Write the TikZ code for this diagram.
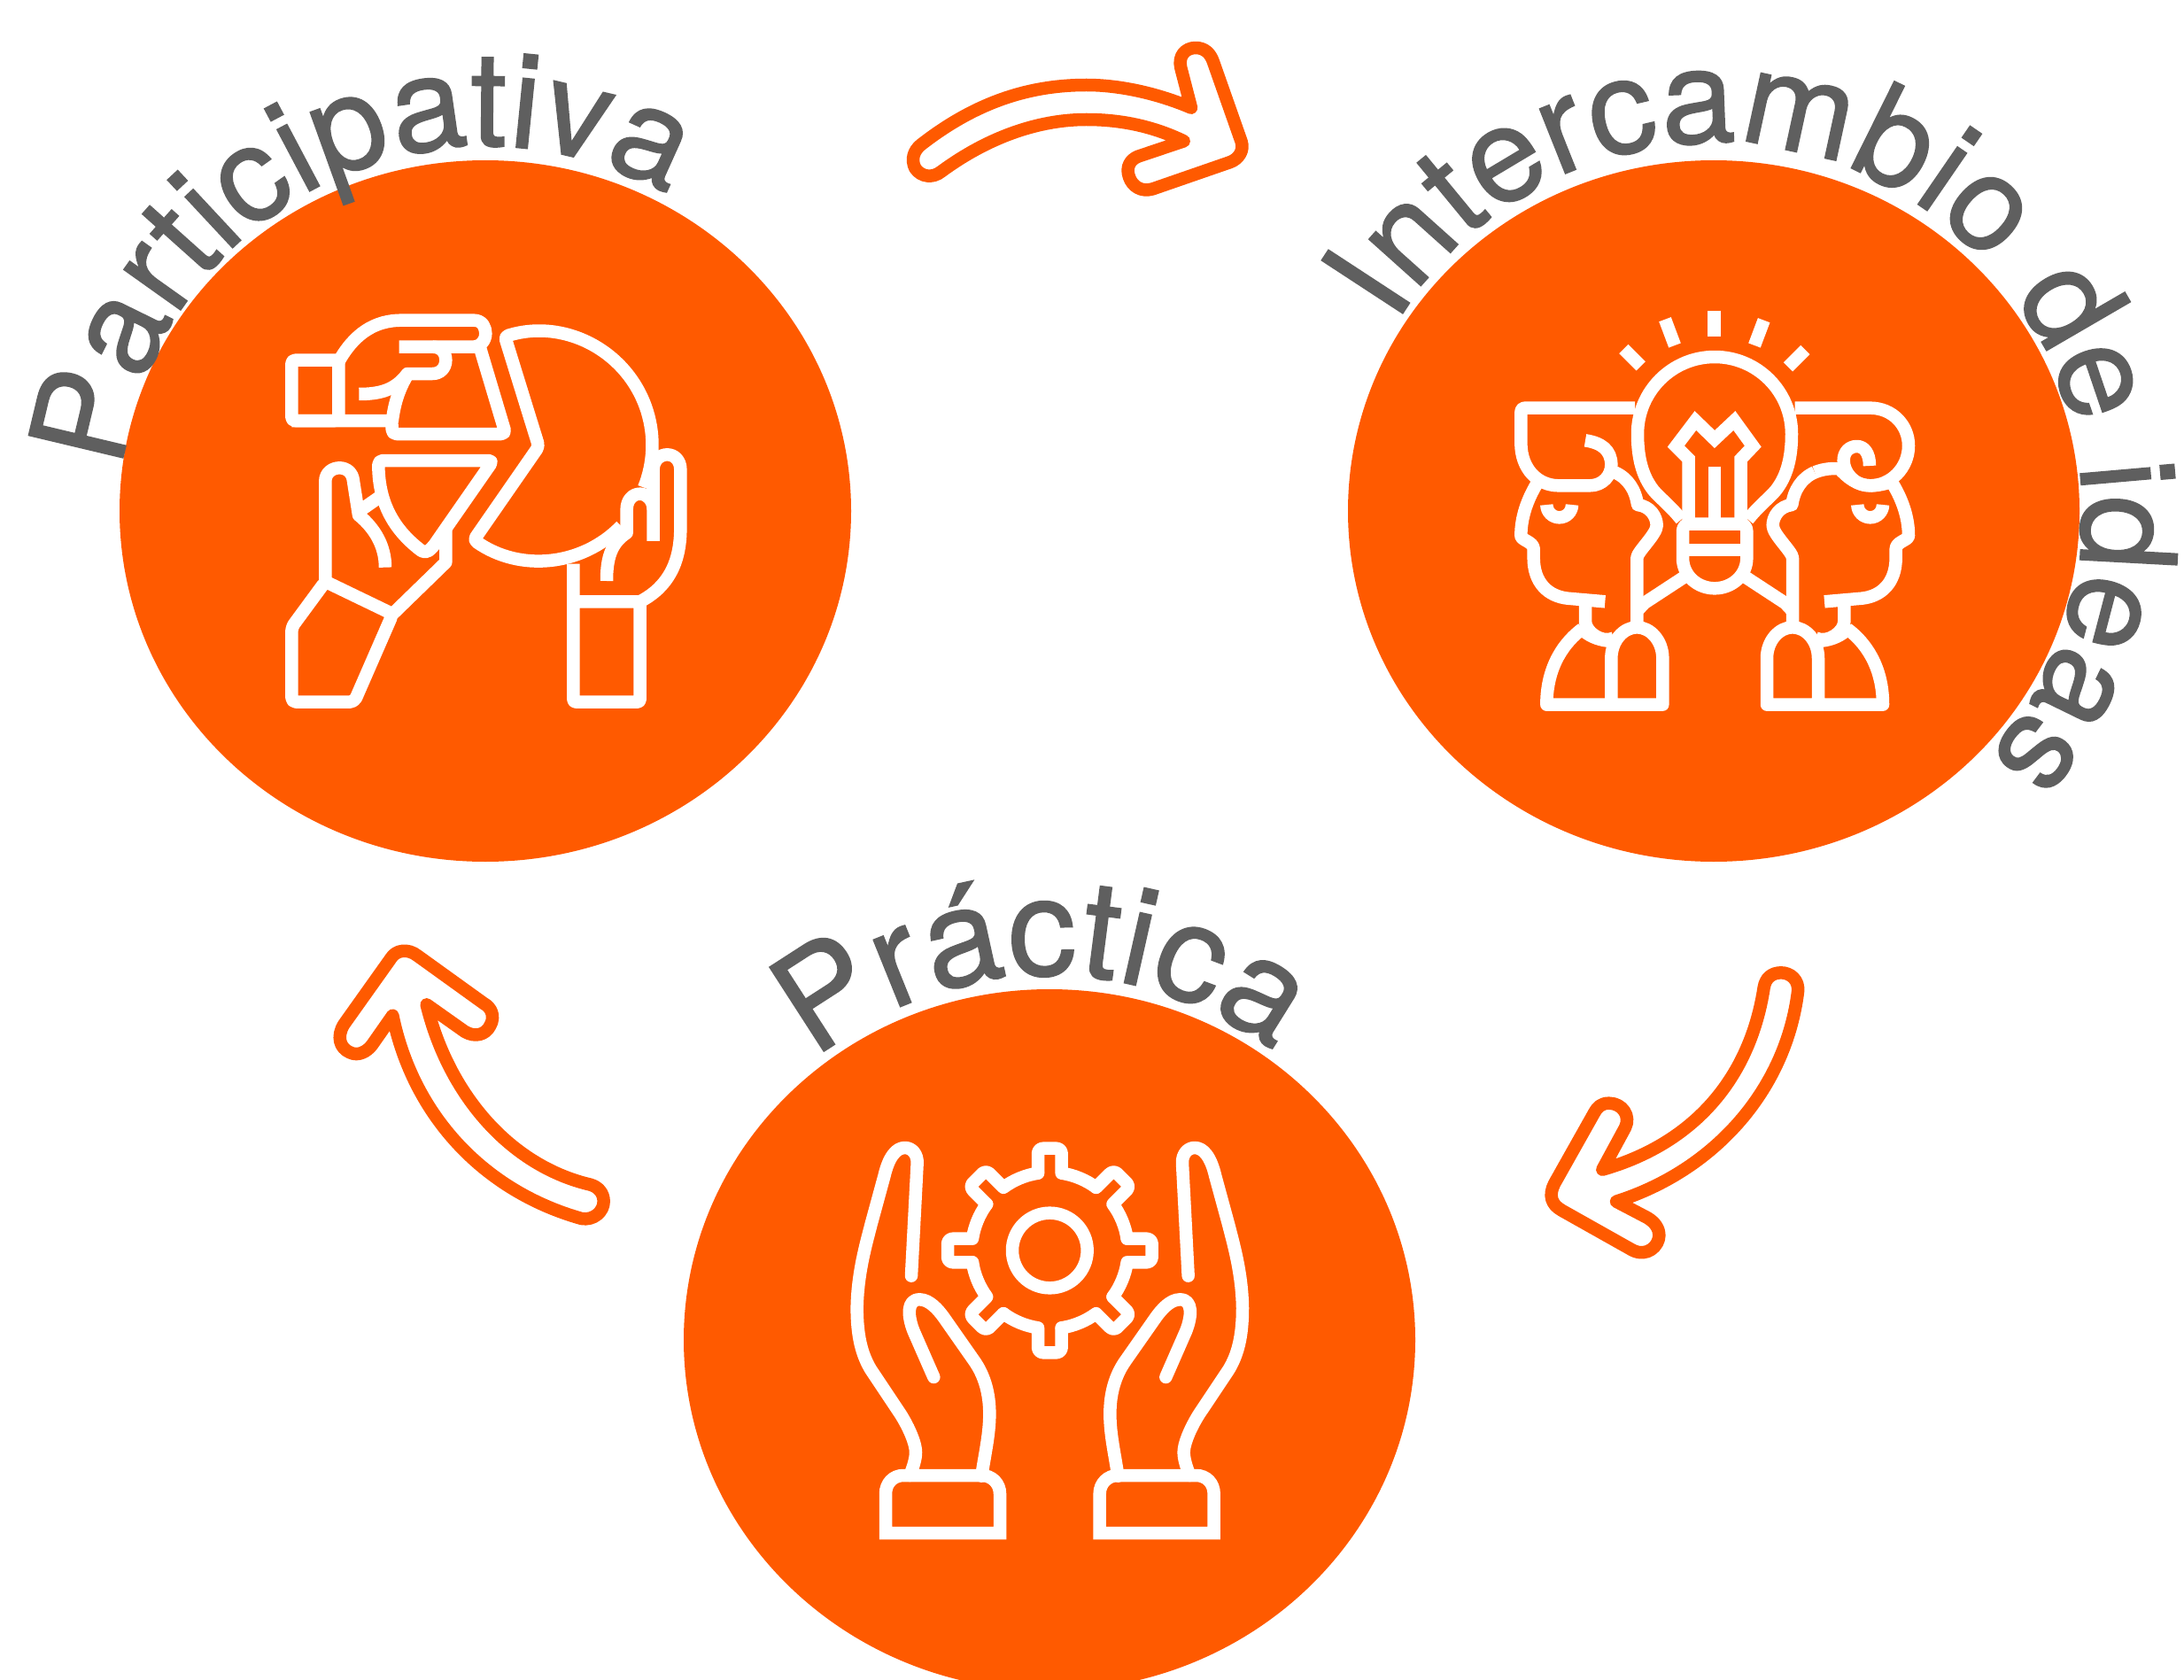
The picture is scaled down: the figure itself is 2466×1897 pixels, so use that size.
\documentclass[tikz,border=0pt]{standalone}
\usepackage{fontspec}
\newfontfamily\wordface[FakeBold=1]{TeX Gyre Heros}
\usetikzlibrary{decorations.text}
\definecolor{brand}{HTML}{FF5A00}
\definecolor{wordgray}{HTML}{5F5F5F}
\newcommand\wordfont[1]{\wordface\fontsize{#1}{180}\selectfont\color{wordgray}}
\tikzset{
  disc/.style={fill=brand},
  ico/.style={draw=white,line width=14.5pt,line join=round},
  icoround/.style={ico,line cap=round},
  arrowline/.style={draw=brand,line width=14.5pt,line join=round},
  arcword/.style 2 args={decorate,decoration={text along path,text={|\wordfont{#1}|#2},text align={align=fit to path}}}
}
\begin{document}
\begin{tikzpicture}[x=1pt,y=-1pt]
\useasboundingbox (0,0) rectangle (2466,1897);
\clip (0,0) rectangle (2466,1897);
\fill[white] (0,0) rectangle (2466,1897);
\coordinate (c1) at (548,577);
\coordinate (c2) at (1935,577);
\coordinate (c3) at (1185,1513);
\fill[disc] (c1) ellipse [x radius=413,y radius=396];
\fill[disc] (c2) ellipse [x radius=413,y radius=396];
\fill[disc] (c3) ellipse [x radius=413,y radius=396];
% curved words
\path[arcword={150}{Participativa}] (c1) ++(-173:412) arc[start angle=-173,end angle=-60.5,radius=412];
\path[arcword={150}{Intercambio de ideas}] (c2) ++(-158.5:416) arc[start angle=-158.5,end angle=51,radius=416];
\path[arcword={155}{Práctica}] (c3) ++(-130.8:412) arc[start angle=-130.8,end angle=-51.3,radius=412];
% arrows
\begin{scope}[shift={(1000,20)},scale=1/3]
\draw[arrowline] (120,430) .. controls (300,290) and (480,228) .. (680,228)
    .. controls (800,228) and (930,260) .. (1035,305)
    -- (1000,170) .. controls (990,130) and (1015,102) .. (1050,102)
    .. controls (1080,102) and (1100,120) .. (1110,150)
    -- (1205,420) .. controls (1215,450) and (1195,480) .. (1165,490)
    -- (905,580) .. controls (865,592) and (835,570) .. (825,540)
    .. controls (812,505) and (830,480) .. (855,470)
    -- (1010,418) .. controls (900,365) and (790,345) .. (680,345)
    .. controls (510,345) and (340,410) .. (190,520)
    .. controls (160,545) and (120,540) .. (100,510)
    .. controls (85,480) and (95,450) .. (120,430) -- cycle;
\end{scope}
\begin{scope}[shift={(1720,1070)},scale=1/3]
\draw[arrowline] (815,135) .. controls (770,430) and (590,660) .. (268,752) -- (345,610) .. controls (365,570) and (335,527) .. (290,527) .. controls (265,527) and (250,540) .. (240,560) -- (105,800) .. controls (85,840) and (95,870) .. (130,890) -- (370,1025) .. controls (420,1050) and (460,1010) .. (460,975) .. controls (460,950) and (445,930) .. (420,915) -- (315,860) .. controls (660,750) and (890,470) .. (930,150) .. controls (935,110) and (905,85) .. (873,85) .. controls (840,85) and (820,105) .. (815,135) -- cycle;
\end{scope}
\begin{scope}[shift={(360,1040)},scale=1/3]
\draw[arrowline] (920,893) .. controls (650,830) and (440,590) .. (365,283) -- (495,375) .. controls (530,395) and (565,385) .. (580,355) .. controls (600,320) and (580,290) .. (560,280) -- (335,118) .. controls (300,90) and (260,100) .. (245,125) -- (85,350) .. controls (60,390) and (70,430) .. (105,445) .. controls (135,460) and (165,440) .. (180,420) -- (250,320) .. controls (320,660) and (560,915) .. (890,1008) .. controls (930,1015) and (965,985) .. (965,950) .. controls (965,920) and (945,900) .. (920,893) -- cycle;
\end{scope}
% icon 1
\begin{scope}[shift={(290,330)},scale=1/3]
\draw[ico,rounded corners=4pt] (277,230) -- (118,230) -- (118,435) -- (277,435) -- cycle;
\draw[ico] (277,235) .. controls (330,140) and (400,95) .. (490,95) -- (735,95) .. controls (765,95) and (775,120) .. (775,140) .. controls (775,165) and (755,185) .. (735,185) -- (482,185);
\draw[ico] (595,185) .. controls (625,185) and (640,205) .. (640,230) .. controls (640,258) and (620,276) .. (595,276) -- (510,276) .. controls (470,330) and (420,345) .. (346,345);
\draw[ico] (510,280) .. controls (480,330) and (465,380) .. (458,440);
\draw[ico,rounded corners=5pt] (118,435) -- (458,435) -- (458,480) -- (843,480) -- (752,175);
\draw[ico,rounded corners=4pt] (1234,792) arc[start angle=44,end angle=125.2,radius=385] -- (955,522) -- (840,150) arc[start angle=-107.3,end angle=22,radius=385];
\draw[ico,rounded corners=3pt] (1072,920) -- (1072,1388) -- (1298,1388) -- (1298,1048) -- (1072,1048);
\draw[ico] (1298,1048) .. controls (1390,1000) and (1435,920) .. (1435,800) -- (1435,600) .. controls (1435,570) and (1415,550) .. (1390,550) .. controls (1365,550) and (1343,570) .. (1343,600) -- (1343,843);
\draw[ico] (1343,735) .. controls (1343,705) and (1320,683) .. (1298,683) .. controls (1272,683) and (1253,705) .. (1253,735) -- (1253,815) .. controls (1200,850) and (1185,900) .. (1185,978);
\draw[ico,rounded corners=5pt] (118,1388) -- (118,1135) -- (232,980) -- (460,1090) -- (330,1388) -- cycle;
\draw[ico] (232,985) -- (232,640) .. controls (232,612) and (255,595) .. (280,595) .. controls (305,595) and (325,612) .. (327,640) -- (345,755) .. controls (400,800) and (435,860) .. (435,932);
\draw[ico] (352,738) -- (418,692);
\draw[ico] (640,800) -- (640,915) -- (460,1090);
\draw[ico,rounded corners=5pt] (570,570) -- (800,570) -- (640,800) -- (595,865) -- (570,885) .. controls (470,810) and (412,720) .. (412,570) -- (570,570);
\end{scope}
% icon 2
\begin{scope}[shift={(1680,330)},scale=1/3]
\draw[ico] (766,62) -- (766,150);
\draw[ico] (600,92) -- (633,180);
\draw[ico] (935,95) -- (903,180);
\draw[ico] (460,192) -- (518,250);
\draw[ico] (1075,195) -- (1017,253);
\draw[ico] (655,770) .. controls (620,725) and (580,695) .. (560,670) .. controls (525,625) and (507,565) .. (507,480) arc[start angle=180,end angle=360,radius=261] .. controls (1029,565) and (1011,625) .. (976,670) .. controls (956,695) and (916,725) .. (881,770);
\draw[ico] (660,900) -- (660,810) .. controls (660,795) and (670,785) .. (680,785) -- (857,785) .. controls (867,785) and (877,795) .. (877,810) -- (877,900) .. controls (877,960) and (826,1003) .. (768,1003) .. controls (710,1003) and (660,960) .. (660,900) -- cycle;
\draw[ico] (660,873) -- (877,873);
\draw[ico,line join=miter] (680,785) -- (680,565) -- (637,522) -- (703,435) -- (768,498) -- (835,435) -- (898,522) -- (857,565) -- (857,785);
\draw[ico] (768,590) -- (768,785);
\foreach \flip/\off in {1/0,-1/1537}{
\begin{scope}[shift={(\off,0)},xscale=\flip]
\draw[ico] (165,650) .. controls (135,700) and (112,760) .. (112,825) .. controls (112,840) and (155,845) .. (155,870) -- (155,900) .. controls (155,985) and (205,1030) .. (270,1037) -- (397,1048);
\draw[ico] (430,610) .. controls (475,630) and (500,670) .. (507,720) .. controls (550,725) and (572,760) .. (572,790) .. controls (572,820) and (505,880) .. (505,900) -- (505,1135);
\draw[ico] (330,1045) -- (330,1115) .. controls (330,1150) and (385,1190) .. (425,1172);
\draw[ico] (320,1140) .. controls (240,1200) and (199,1290) .. (199,1397) -- (592,1397) -- (592,1240) .. controls (592,1180) and (550,1135) .. (505,1135) .. controls (460,1135) and (418,1180) .. (418,1240) -- (418,1397);
\draw[ico] (322,1145) .. controls (350,1170) and (385,1180) .. (418,1182);
\draw[ico] (672,960) -- (530,1053) -- (505,1080);
\draw[ico] (199,720) arc[start angle=180,end angle=0,radius=43];
\end{scope}}
\draw[ico] (498,392) -- (125,392) .. controls (115,392) and (112,400) .. (112,410) -- (112,510) .. controls (112,600) and (170,655) .. (240,655) -- (345,655) .. controls (390,655) and (418,620) .. (418,585) .. controls (418,535) and (385,510) .. (330,502);
\draw[ico] (1040,392) -- (1295,392) .. controls (1370,392) and (1425,450) .. (1425,520) .. controls (1425,595) and (1365,655) .. (1295,655) .. controls (1240,655) and (1205,610) .. (1205,570) .. controls (1205,540) and (1225,522) .. (1250,522) .. controls (1275,522) and (1293,545) .. (1293,588);
\draw[ico] (1295,655) .. controls (1320,655) and (1345,650) .. (1372,640);
\draw[ico] (1107,610) .. controls (1140,597) and (1165,597) .. (1190,597) .. controls (1215,625) and (1250,655) .. (1295,655);
\end{scope}
% icon 3
\begin{scope}[shift={(940,1270)},scale=1/3]
\draw[ico] (736,426) circle[radius=127];
\foreach \ang in {0,45,...,315}{
\begin{scope}[shift={(736,426)},rotate=-\ang]
\draw[icoround] (-40,-262) [rounded corners=6pt] -- (-40,-346) -- (40,-346) [sharp corners] -- (40,-262) arc[start angle=-81.3,end angle=-53.7,radius=265];
\end{scope}}
\foreach \flip/\off in {1/0,-1/1472}{
\begin{scope}[shift={(\off,0)},xscale=\flip]
\draw[icoround] (262,1188) .. controls (275,1155) and (282,1130) .. (282,1110) .. controls (282,1070) and (245,1000) .. (220,965) -- (130,830) .. controls (100,780) and (83,720) .. (83,620) .. controls (85,500) and (115,400) .. (130,340) -- (175,175) .. controls (190,110) and (215,78) .. (245,78) .. controls (270,78) and (288,100) .. (287,130) -- (267,512);
\draw[icoround] (343,855) -- (275,700) .. controls (255,650) and (250,592) .. (295,592) .. controls (330,592) and (360,630) .. (375,650) -- (480,800) .. controls (515,850) and (532,910) .. (532,980) .. controls (532,1050) and (515,1120) .. (505,1190);
\draw[ico,line join=miter] (180,1383) -- (180,1250) .. controls (180,1215) and (205,1188) .. (240,1188) -- (505,1188) .. controls (540,1188) and (567,1215) .. (567,1250) -- (567,1383) -- cycle;
\end{scope}}
\end{scope}
\end{tikzpicture}
\end{document}
